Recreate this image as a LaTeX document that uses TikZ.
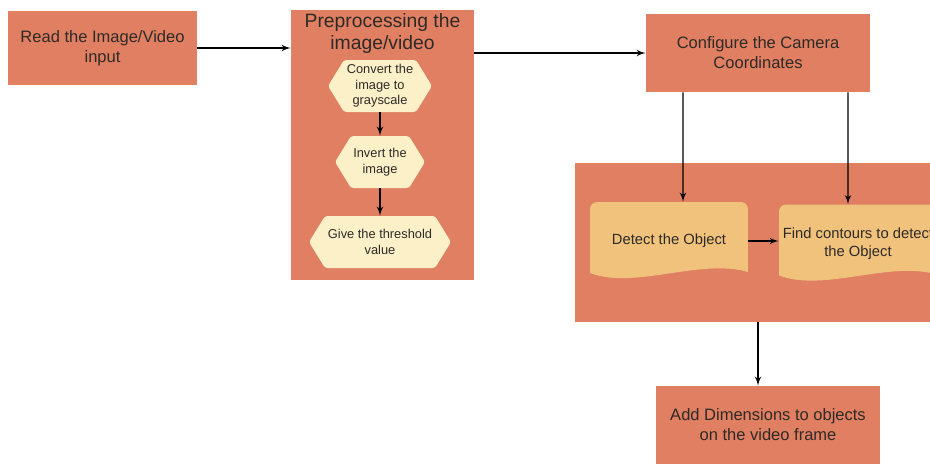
\documentclass[tikz,border=0pt]{standalone}
\usepackage{fontspec}
\setmainfont{Liberation Sans}
\usepackage{tikz}
\usetikzlibrary{shapes,arrows}

\definecolor{boxfill}{HTML}{E07F61}
\definecolor{hexfill}{HTML}{FBF0C8}
\definecolor{docfill}{HTML}{F0C27B}
\definecolor{txt}{HTML}{2E2A28}

\tikzset{
  mainbox/.style={rectangle, fill=boxfill, text=txt, align=center, inner sep=0pt,
    font=\fontsize{9.4}{11.3}\selectfont},
  groupbox/.style={rectangle, fill=boxfill, inner sep=0pt},
  hexbox/.style={rectangle, minimum width=#1, minimum height=1.04cm, inner sep=0pt, align=center, text=txt,
    font=\fontsize{7.3}{8.8}\selectfont,
    path picture={\fill[hexfill, rounded corners=1.5pt] (path picture bounding box.west)
      -- ([xshift=0.32cm]path picture bounding box.north west) -- ([xshift=-0.32cm]path picture bounding box.north east)
      -- (path picture bounding box.east)
      -- ([xshift=-0.32cm]path picture bounding box.south east) -- ([xshift=0.32cm]path picture bounding box.south west)
      -- cycle;}},
  docbox/.style={rectangle, minimum width=3.16cm, minimum height=1.56cm, inner sep=0pt, align=center, text=txt,
    font=\fontsize{8.4}{10.5}\selectfont,
    path picture={\fill[docfill] ([yshift=0.14cm]path picture bounding box.south west)
      [rounded corners=4pt] -- (path picture bounding box.north west) -- (path picture bounding box.north east)
      [sharp corners] -- ([yshift=0.16cm]path picture bounding box.south east)
      .. controls ([xshift=-0.96cm, yshift=0.44cm]path picture bounding box.south east)
      and ([xshift=0.9cm, yshift=-0.2cm]path picture bounding box.south west)
      .. ([yshift=0.14cm]path picture bounding box.south west) -- cycle;}},
  flow/.style={draw, -latex', thick, black}
}

\begin{document}
\begin{tikzpicture}[x=0.02cm, y=-0.02cm]
    \useasboundingbox (0,0) rectangle (930,464);
    \clip (0,0) rectangle (930,464);
    % containers
    \node[groupbox, minimum width=3.66cm, minimum height=5.4cm](pre) at (382.5,145){};
    \node[groupbox, minimum width=7.4cm, minimum height=3.18cm](det_grp) at (760,242.5){};
    \node[text=txt, align=center, font=\fontsize{11}{12.8}\selectfont](pre_title) at (382.5,33.5){Preprocessing the\\image/video};
    % main steps
    \node[mainbox, minimum width=3.78cm, minimum height=1.48cm](read) at (102.5,48){Read the Image/Video\\input};
    \node[mainbox, minimum width=4.48cm, minimum height=1.56cm](cfg) at (758,53){Configure the Camera\\Coordinates};
    \node[mainbox, minimum width=4.48cm, minimum height=1.56cm](add) at (768,425){Add Dimensions to objects\\on the video frame};
    % preprocessing steps
    \node[hexbox=2.08cm](gray) at (380,86){Convert the\\image to\\grayscale};
    \node[hexbox=1.8cm](inv) at (380,162){Invert the\\image};
    \node[hexbox=2.84cm](thr) at (380,242){Give the threshold\\value};
    % detection steps
    \node[docbox](det) at (669,241){Detect the Object};
    \node[docbox](cont) at (858,243.5){Find contours to detect\\the Object};
    \path[flow](read.east)--(read.east -| pre.west);
    \path[flow](pre.east |- cfg.west)--(cfg.west);
    \path[flow](gray)--(inv);
    \path[flow](inv)--(thr);
    \path[flow]([xshift=-1.5cm]cfg.south)--([xshift=0.28cm]det.north);
    \path[flow]([xshift=1.8cm]cfg.south)--([xshift=-0.2cm]cont.north);
    \path[flow](det.east)--(det.east -| cont.west);
    \path[flow](det_grp.south -| cfg.south)--(add.north -| cfg.south);
\end{tikzpicture}
\end{document}
